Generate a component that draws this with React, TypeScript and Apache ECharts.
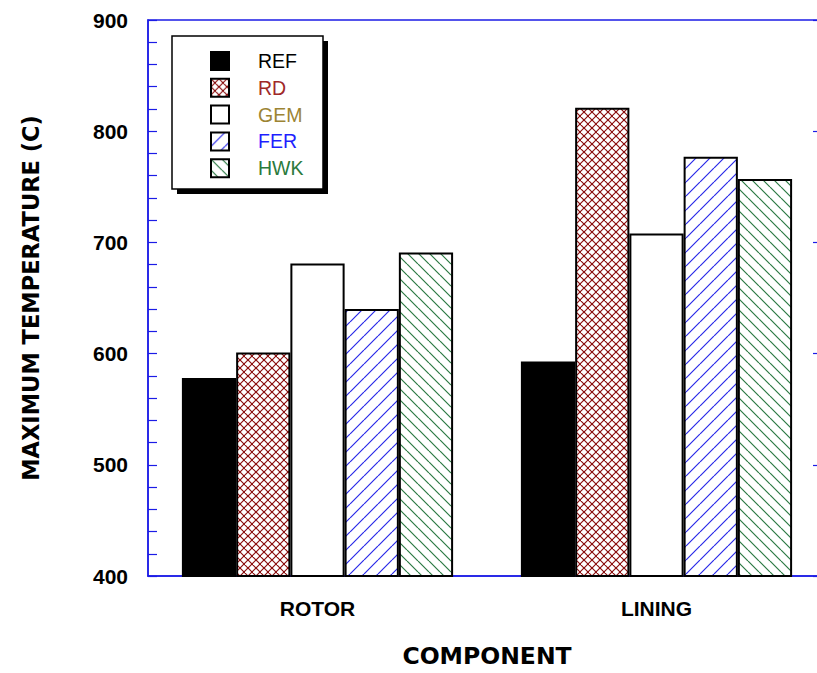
import React, { useEffect, useRef } from "react";
import * as echarts from "echarts";

const categories = ["ROTOR", "LINING"];
const seriesNames = ["REF", "RD", "GEM", "FER", "HWK"];
const refValues = [578, 593];
const rdValues = [601, 821];
const gemValues = [681, 708];
const ferValues = [640, 777];
const hwkValues = [691, 757];
const yMin = 400;
const yMax = 900;
const yInterval = 100;
const xAxisTitle = "COMPONENT";
const yAxisTitle = "MAXIMUM TEMPERATURE (C)";
const legendTextColors = ["#000000", "#a02828", "#9c8434", "#1e1eff", "#2a7a3c"];

const AXIS_BLUE = "#1c1ce6";

function makePattern(kind: string, color: string) {
  const size = kind === "cross" ? 8 : kind === "fwd" ? 14 : 11;
  const c = document.createElement("canvas");
  c.width = size;
  c.height = size;
  const ctx = c.getContext("2d") as CanvasRenderingContext2D;
  ctx.fillStyle = "#ffffff";
  ctx.fillRect(0, 0, size, size);
  ctx.strokeStyle = color;
  ctx.lineWidth = 1.2;
  ctx.beginPath();
  for (let k = -1; k <= 1; k++) {
    if (kind === "cross" || kind === "fwd") {
      ctx.moveTo(k * size, size);
      ctx.lineTo(k * size + size, 0);
    }
    if (kind === "cross" || kind === "back") {
      ctx.moveTo(k * size, 0);
      ctx.lineTo(k * size + size, size);
    }
  }
  ctx.stroke();
  if (kind === "cross") {
    ctx.fillStyle = color;
    ctx.fillRect(size / 2 - 1, size / 2 - 1, 2, 2);
    ctx.fillRect(-1, -1, 2, 2);
    ctx.fillRect(size - 1, -1, 2, 2);
    ctx.fillRect(-1, size - 1, 2, 2);
    ctx.fillRect(size - 1, size - 1, 2, 2);
  }
  return {
    image: c.toDataURL(),
    repeat: "repeat",
    imageWidth: size,
    imageHeight: size,
  };
}

export default function App() {
  const ref = useRef<HTMLDivElement>(null);

  useEffect(() => {
    if (!ref.current) return;
    const chart = echarts.init(ref.current, null, { renderer: "svg" });

    const fills: any[] = [
      "#000000",
      makePattern("cross", "#8b1010"),
      "#ffffff",
      makePattern("fwd", "#2a2ae8"),
      makePattern("back", "#2c7a44"),
    ];
    const valueSets = [refValues, rdValues, gemValues, ferValues, hwkValues];

    const labelFont = { fontFamily: "Liberation Sans", fontWeight: "bold" as const, fontSize: 21, color: "#000" };
    const nameFont = { fontFamily: "DejaVu Sans", fontWeight: "bold" as const, fontSize: 23.5, color: "#000" };

    chart.setOption({
      animation: false,
      backgroundColor: "#ffffff",
      grid: {
        left: 148,
        top: 20,
        right: 0,
        bottom: 96,
        show: true,
        borderColor: AXIS_BLUE,
        borderWidth: 1.5,
        backgroundColor: "transparent",
      },
      graphic: [
        { type: "rect", z: 0, shape: { x: 177, y: 41, width: 151, height: 153 }, style: { fill: "#000" } },
        {
          type: "rect",
          z: 1,
          shape: { x: 172, y: 36, width: 151, height: 153 },
          style: { fill: "#fff", stroke: "#000", lineWidth: 1.5 },
        },
      ],
      legend: {
        orient: "vertical",
        left: 210,
        top: 51,
        padding: 0,
        itemWidth: 18,
        itemHeight: 18,
        itemGap: 6.8,
        icon: "rect",
        z: 5,
        data: seriesNames.map((n, i) => ({ name: n, textStyle: { color: legendTextColors[i] } })),
        textStyle: { fontFamily: "Liberation Sans", fontSize: 19.5, padding: [0, 0, 0, 24] },
      },
      xAxis: {
        type: "category",
        data: categories,
        axisLine: { show: true, lineStyle: { color: AXIS_BLUE, width: 1.5 } },
        axisTick: { show: false },
        axisLabel: { ...labelFont, margin: 22 },
        name: xAxisTitle,
        nameLocation: "middle",
        nameGap: 68,
        nameTextStyle: nameFont,
      },
      yAxis: [
        {
          type: "value",
          min: yMin,
          max: yMax,
          interval: yInterval,
          axisLine: { show: true, lineStyle: { color: AXIS_BLUE, width: 1.5 } },
          axisTick: { show: true, inside: true, length: 9, lineStyle: { color: AXIS_BLUE, width: 1.2 } },
          minorTick: { show: true, splitNumber: 5, length: 9, lineStyle: { color: AXIS_BLUE, width: 1.2 } },
          splitLine: { show: false },
          axisLabel: { ...labelFont, margin: 20 },
          name: yAxisTitle,
          nameLocation: "middle",
          nameRotate: 90,
          nameGap: 106,
          nameTextStyle: { ...nameFont, fontSize: 22.5 },
        },
        {
          type: "value",
          position: "right",
          min: yMin,
          max: yMax,
          interval: yInterval,
          axisLine: { show: true, lineStyle: { color: AXIS_BLUE, width: 1.5 } },
          axisTick: { show: true, inside: true, length: 13, lineStyle: { color: AXIS_BLUE, width: 1.2 } },
          axisLabel: { show: false },
          splitLine: { show: false },
        },
      ],
      series: seriesNames.map((name, i) => ({
        name,
        type: "bar",
        yAxisIndex: 0,
        data: valueSets[i],
        barGap: "0%",
        barCategoryGap: "20%",
        itemStyle: { color: fills[i], borderColor: "#000", borderWidth: 2 },
      })),
    });

    return () => chart.dispose();
  }, []);

  return (
    <div style={{ position: "absolute", left: 0, top: 0, width: 817, height: 673, overflow: "hidden" }}>
      <div ref={ref} style={{ width: 826, height: 673 }} />
    </div>
  );
}
